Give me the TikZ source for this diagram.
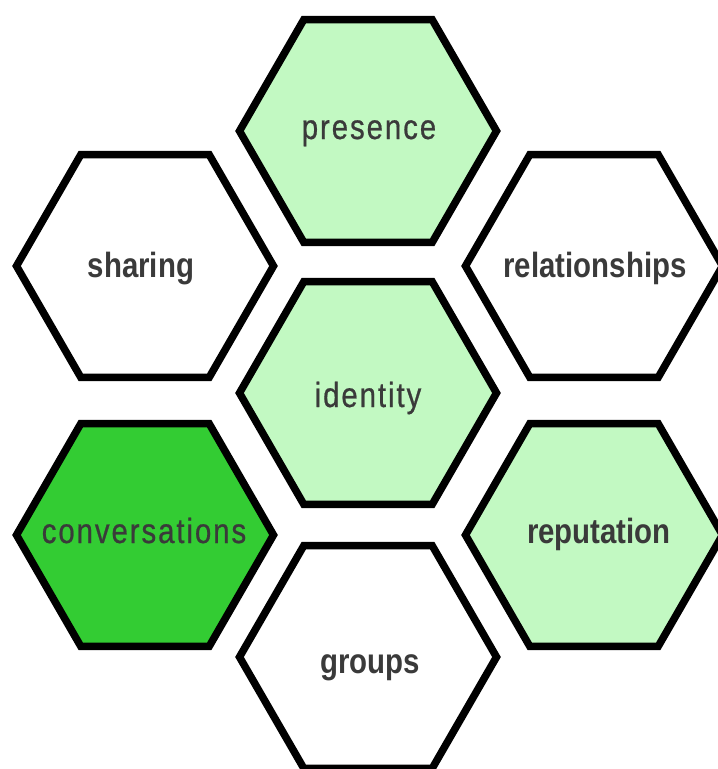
\documentclass[tikz,border=0pt]{standalone}
\usepackage{fontspec}
\newfontfamily\hexfont[FakeStretch=0.84]{Liberation Sans}
\newfontfamily\hexfontsp[FakeStretch=0.84,LetterSpace=5.5,FakeBold=0.6]{Liberation Sans}
\usetikzlibrary{shapes.geometric}
\definecolor{lightg}{HTML}{C2F9C2}
\definecolor{darkg}{HTML}{33CC33}
\definecolor{txt}{HTML}{3A3A3A}
\begin{document}
\begin{tikzpicture}[x=1pt,y=-1pt,
  hex/.style={regular polygon, regular polygon sides=6, minimum size=257pt,
    inner sep=0pt, outer sep=0pt, draw=black, line width=7.5pt, line join=miter},
  lbl/.style={anchor=base, inner sep=0pt, text=txt, font=\hexfontsp\fontsize{35}{40}\selectfont},
  blbl/.style={anchor=base, inner sep=0pt, text=txt, font=\hexfont\bfseries\fontsize{35}{40}\selectfont}]
\useasboundingbox (0,0) rectangle (718,769);
\fill[white] (0,0) rectangle (718,769);
\node[hex, fill=lightg] (hpresence) at (368,131) {};
\node[hex, fill=white] (hsharing) at (145,266) {};
\node[hex, fill=white] (hrelationships) at (594,266) {};
\node[hex, fill=lightg] (hidentity) at (368,393) {};
\node[hex, fill=darkg] (hconversations) at (145,535) {};
\node[hex, fill=lightg] (hreputation) at (594,535) {};
\node[hex, fill=white] (hgroups) at (368,657) {};
\node[lbl] (tpresence) at (369,139) {presence};
\node[blbl] (tsharing) at (141,277) {sharing};
\node[blbl] (trelationships) at (595,277) {relationships};
\node[lbl] (tidentity) at (368,407) {identity};
\node[lbl] (tconversations) at (144,543) {conversations};
\node[blbl] (treputation) at (599,543) {reputation};
\node[blbl] (tgroups) at (370,673) {groups};
\end{tikzpicture}
\end{document}
